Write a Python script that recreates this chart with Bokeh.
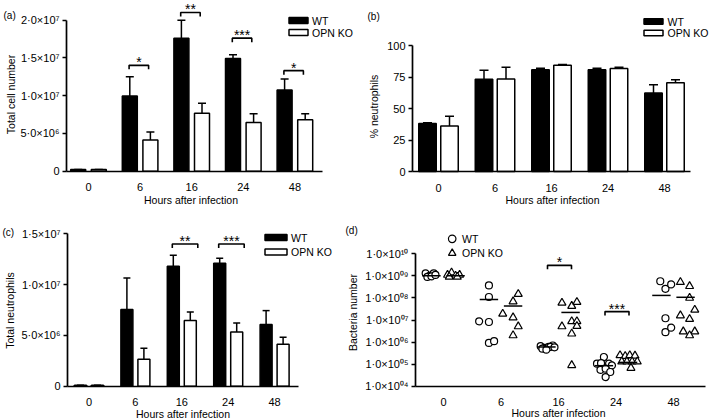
import math
from bokeh.plotting import figure
from bokeh.models import Range1d, FixedTicker, Label
from bokeh.layouts import row, column
from bokeh.embed import file_html
from bokeh.resources import INLINE
from bokeh.core.properties import value

FONT = "Liberation Sans"

# ---------------- data ----------------
hours = ["0", "6", "16", "24", "48"]
xpos = list(range(len(hours)))

# (a) total cell number
a_wt = [2.2e5, 9.96e6, 1.76e7, 1.49e7, 1.075e7]
a_wt_err = [0, 2.54e6, 2.36e6, 0.5e6, 1.45e6]
a_ko = [2.2e5, 4.14e6, 7.67e6, 6.43e6, 6.8e6]
a_ko_err = [0, 1.06e6, 1.32e6, 1.17e6, 0.8e6]
a_ticks = [0, 5000000, 10000000, 15000000, 20000000]
a_tick_labels = ["0", "5·0×10⁶", "1·0×10⁷", "1·5×10⁷", "2·0×10⁷"]
a_sig_idx = [1, 2, 3, 4]
a_sig_level = [1.40e7, 2.10e7, 1.76e7, 1.33e7]
a_sig_text = ["*", "**", "***", "*"]

# (b) % neutrophils
b_wt = [38.1, 73.3, 80.7, 80.7, 62.4]
b_wt_err = [0.5, 7.1, 1.3, 1.3, 6.4]
b_ko = [36.2, 73.5, 84.4, 81.7, 70.4]
b_ko_err = [7.7, 9.3, 0.5, 1.1, 2.4]
b_ticks = [0, 25, 50, 75, 100]
b_tick_labels = ["0", "25", "50", "75", "100"]

# (c) total neutrophils
c_wt = [1e5, 7.54e6, 1.18e7, 1.21e7, 6.07e6]
c_wt_err = [0, 3.12e6, 1.1e6, 0.5e6, 1.37e6]
c_ko = [1e5, 2.66e6, 6.46e6, 5.34e6, 4.13e6]
c_ko_err = [0, 1.08e6, 0.85e6, 0.89e6, 0.69e6]
c_ticks = [0, 5000000, 10000000, 15000000]
c_tick_labels = ["0", "5·0×10⁶", "1·0×10⁷", "1·5×10⁷"]
c_sig_idx = [2, 3]
c_sig_level = [1.40e7, 1.40e7]
c_sig_text = ["**", "***"]

# (d) bacteria number (individual mice)
d_ticks = [10**4, 10**5, 10**6, 10**7, 10**8, 10**9, 10**10]
d_tick_labels = ["1·0×10⁰⁴", "1·0×10⁰⁵", "1·0×10⁰⁶", "1·0×10⁰⁷", "1·0×10⁰⁸", "1·0×10⁰⁹", "1·0×10¹⁰"]
d_wt_hour = [0] * 6 + [1] * 6 + [2] * 8 + [3] * 9 + [4] * 6
d_wt_val = [1.3e9, 1.0e9, 1.3e9, 0.9e9, 0.95e9, 1.1e9,
            3.7e8, 1.1e8, 8.7e6, 8.1e6, 9.1e5, 1.1e6,
            6.5e5, 5.5e5, 6e5, 7e5, 5e5, 6e5, 4.5e5, 5.8e5,
            2.1e5, 1.05e5, 1.1e5, 1.05e5, 8.7e4, 5.5e4, 6.2e4, 4.4e4, 2.6e4,
            5.7e8, 2.6e8, 4.1e8, 1.2e7, 2.8e6, 4.5e6]
d_wt_jit = [-0.31, -0.24, -0.17, -0.28, -0.21, -0.14,
            -0.21, -0.21, -0.38, -0.21, -0.21, -0.12,
            -0.31, -0.24, -0.17, -0.10, -0.28, -0.14, -0.21, -0.07,
            -0.21, -0.33, -0.26, -0.12, -0.07, -0.27, -0.18, -0.10, -0.18,
            -0.23, -0.14, -0.04, -0.14, -0.14, -0.04]
d_ko_hour = [0] * 6 + [1] * 6 + [2] * 9 + [3] * 9 + [4] * 9
d_ko_val = [1.1e9, 1.4e9, 1.0e9, 1.1e9, 0.9e9, 0.9e9,
            1.5e8, 6.9e7, 1.9e7, 1.3e7, 5.1e6, 2.0e6,
            6e7, 4.3e7, 6.5e7, 5.1e6, 8.7e6, 8.7e6, 5.3e6, 2.4e6, 8.9e4,
            2.5e5, 2.3e5, 2.5e5, 2.4e5, 1.3e5, 1.3e5, 1.3e5, 1.3e5, 6.7e4,
            5.2e8, 3.4e8, 1.0e8, 2.9e7, 1.6e7, 1.1e7, 3e6, 3e6, 2e6]
d_ko_jit = [0.07, 0.14, 0.21, 0.28, 0.10, 0.24,
            0.30, 0.21, 0.03, 0.21, 0.30, 0.21,
            0.06, 0.23, 0.32, 0.06, 0.23, 0.32, 0.32, 0.23, 0.23,
            0.07, 0.16, 0.24, 0.33, 0.10, 0.19, 0.28, 0.37, 0.26,
            0.12, 0.28, 0.28, 0.37, 0.12, 0.28, 0.17, 0.37, 0.28]
d_wt_mean = [1.0e9, 8.5e7, 6.0e5, 8.5e4, 1.3e8]
d_ko_mean = [1.0e9, 4.3e7, 2.2e7, 1.2e5, 1.07e8]
d_sig_idx = [2, 3]
d_sig_level = [3.0e9, 2.4e7]
d_sig_text = ["*", "***"]

# ---------------- geometry of the four panels (page pixels) ----------------
CFG_A = dict(ox=0, oy=0, W=354, H=210, ax_x=66, ax_y=170.7, cat0=88, dx=51.6,
             y_lo=0, y_hi=2e7, y_hi_px=19.5, x_end=322)
CFG_B = dict(ox=354, oy=0, W=355, H=210, ax_x=412, ax_y=171, cat0=438, dx=56.5,
             y_lo=0, y_hi=100, y_hi_px=45, x_end=690)
CFG_C = dict(ox=0, oy=210, W=343, H=210, ax_x=67, ax_y=385.7, cat0=88.5, dx=46.4,
             y_lo=0, y_hi=1.5e7, y_hi_px=233.3, x_end=298)
CFG_D = dict(ox=343, oy=210, W=366, H=210, ax_x=415, ax_y=385.7, cat0=443, dx=57.5,
             y_lo=1e4, y_hi=1e10, y_hi_px=253.3, x_end=705, log=True)

TICK_TXT = "11px"
TXT = "10.5px"


def make_panel(cfg, ticks, tick_labels):
    ox, oy, W, H = cfg["ox"], cfg["oy"], cfg["W"], cfg["H"]
    log = cfg.get("log", False)
    T = math.log10 if log else (lambda v: v)
    Ti = (lambda t: 10 ** t) if log else (lambda t: t)
    dx, cat0 = cfg["dx"], cfg["cat0"]
    y_lo, y_hi, ax_y = cfg["y_lo"], cfg["y_hi"], cfg["ax_y"]
    k = (ax_y - cfg["y_hi_px"]) / (T(y_hi) - T(y_lo))

    def xdata(rx):
        return (rx - cat0) / dx

    def ydata(ry):
        return Ti(T(y_lo) + (ax_y - ry) / k)

    p = figure(width=W, height=H,
               x_range=Range1d(xdata(ox), xdata(ox + W)),
               y_range=Range1d(ydata(oy + H), ydata(oy)),
               y_axis_type="log" if log else "linear", output_backend="svg",
               toolbar_location=None, min_border=0, min_border_left=0, min_border_right=0,
               min_border_top=0, min_border_bottom=0, outline_line_color=None,
               background_fill_color="white", border_fill_color="white")
    p.xgrid.visible = False
    p.ygrid.visible = False

    def to_data(rx, ry):
        return xdata(rx), ydata(ry)

    def shift_down(val, px):
        return Ti(T(val) - px / k)

    for ax in (p.xaxis[0], p.yaxis[0]):
        ax.axis_line_width = 1.7
        ax.axis_line_color = "black"
        ax.major_label_text_font = FONT
        ax.major_label_text_font_size = TICK_TXT
        ax.major_label_text_color = "black"
        ax.minor_tick_line_color = None
    xa = p.xaxis[0]
    xa.fixed_location = y_lo
    xa.ticker = FixedTicker(ticks=xpos)
    xa.major_label_overrides = {i: h for i, h in zip(xpos, hours)}
    xa.major_tick_line_color = None
    xa.major_label_standoff = 6
    xa.bounds = (xdata(cfg["ax_x"]), xdata(cfg["x_end"]))
    ya = p.yaxis[0]
    ya.fixed_location = xdata(cfg["ax_x"])
    ya.ticker = FixedTicker(ticks=ticks, minor_ticks=[])
    ya.major_label_overrides = dict(zip(ticks, tick_labels))
    ya.major_tick_in = 0
    ya.major_tick_out = 4
    ya.major_tick_line_width = 1.5
    ya.major_tick_line_color = "black"
    ya.major_label_standoff = 3
    ya.bounds = (y_lo, y_hi)
    return p, to_data, shift_down


def add_text(p, to_data, rx, ry, text, align="left", angle=0.0, size=TXT):
    x, y = to_data(rx, ry)
    p.add_layout(Label(x=x, y=y, text=text, text_font=FONT, text_font_size=size,
                       text_color="black", text_align=align, text_baseline="middle",
                       angle=angle))


def draw_bars(p, cfg, wt, wt_err, ko, ko_err, bw_px, off_px, cap_px):
    bw, off, cap = bw_px / cfg["dx"], off_px / cfg["dx"], cap_px / cfg["dx"]
    for vals, errs, sign, fill in ((wt, wt_err, -1, "black"), (ko, ko_err, 1, "white")):
        xs = [i + sign * off for i in xpos]
        tops = [v + e for v, e in zip(vals, errs)]
        p.segment(x0=xs, y0=vals, x1=xs, y1=tops, line_color="black", line_width=1.5)
        p.segment(x0=[x - cap for x in xs], y0=tops, x1=[x + cap for x in xs], y1=tops,
                  line_color="black", line_width=1.5)
        p.vbar(x=xs, top=vals, bottom=0, width=bw, fill_color=fill,
               line_color="black", line_width=1.5)


def draw_sig(p, cfg, shift_down, idx, lvl, txt, l_px, r_px):
    xs_l, ys_l, tx, ty = [], [], [], []
    for i, h in zip(idx, lvl):
        xa, xb = i + l_px / cfg["dx"], i + r_px / cfg["dx"]
        leg = shift_down(h, 4)
        xs_l.append([xa, xa, xb, xb])
        ys_l.append([leg, h, h, leg])
        tx.append((xa + xb) / 2)
        ty.append(h)
    p.multi_line(xs=xs_l, ys=ys_l, line_color="black", line_width=1.6)
    p.text(x=tx, y=ty, text=txt, text_align="center", text_baseline="alphabetic",
           text_font=value(FONT), text_font_size="14px", text_color="black", y_offset=-3)


def bar_legend(p, to_data, cx, y_wt, y_ko, w_px, h_px, text_x):
    for yc, fill, lab in ((y_wt, "black", "WT"), (y_ko, "white", "OPN KO")):
        xd, yd = to_data(cx, yc)
        p.rect(x=[xd], y=[yd], width=w_px, height=h_px, width_units="screen",
               height_units="screen", fill_color=fill, line_color="black", line_width=1.5)
        add_text(p, to_data, text_x, yc, lab)


# ---------------- (a) ----------------
pa, ta, sa = make_panel(CFG_A, a_ticks, a_tick_labels)
draw_bars(pa, CFG_A, a_wt, a_wt_err, a_ko, a_ko_err, 15, 10.3, 4)
draw_sig(pa, CFG_A, sa, a_sig_idx, a_sig_level, a_sig_text, -11, 8.5)
bar_legend(pa, ta, 298, 20, 32, 19, 6, 311.5)
add_text(pa, ta, 3, 15, "(a)", size="10px")
add_text(pa, ta, 190.5, 199, "Hours after infection", align="center")
add_text(pa, ta, 10, 94, "Total cell number", align="center", angle=math.pi / 2)

# ---------------- (b) ----------------
pb, tb, sb = make_panel(CFG_B, b_ticks, b_tick_labels)
draw_bars(pb, CFG_B, b_wt, b_wt_err, b_ko, b_ko_err, 17.5, 11, 4.5)
bar_legend(pb, tb, 653, 21, 32.5, 19, 5.5, 667)
add_text(pb, tb, 367, 16, "(b)", size="10px")
add_text(pb, tb, 552, 199.3, "Hours after infection", align="center")
add_text(pb, tb, 373, 106, "% neutrophils", align="center", angle=math.pi / 2)

# ---------------- (c) ----------------
pc, tc, sc = make_panel(CFG_C, c_ticks, c_tick_labels)
draw_bars(pc, CFG_C, c_wt, c_wt_err, c_ko, c_ko_err, 12, 8.5, 3.5)
draw_sig(pc, CFG_C, sc, c_sig_idx, c_sig_level, c_sig_text, -9.5, 16)
bar_legend(pc, tc, 275.5, 237, 251.5, 22, 6, 290.5)
add_text(pc, tc, 2, 231.7, "(c)", size="10px")
add_text(pc, tc, 182.5, 413, "Hours after infection", align="center")
add_text(pc, tc, 9, 310, "Total neutrophils", align="center", angle=math.pi / 2)

# ---------------- (d) ----------------
pd_, td, sd = make_panel(CFG_D, d_ticks, d_tick_labels)
pd_.scatter(x=[h + j for h, j in zip(d_wt_hour, d_wt_jit)], y=d_wt_val, marker="circle",
            size=7, fill_color="white", line_color="black", line_width=1.2)
pd_.scatter(x=[h + j for h, j in zip(d_ko_hour, d_ko_jit)], y=d_ko_val, marker="triangle",
            size=8, fill_color="white", line_color="black", line_width=1.2)
MC, MH = 0.21, 0.16
pd_.segment(x0=[i - MC - MH for i in xpos], x1=[i - MC + MH for i in xpos], y0=d_wt_mean,
            y1=d_wt_mean, line_color="black", line_width=1.5)
pd_.segment(x0=[i + MC - MH for i in xpos], x1=[i + MC + MH for i in xpos], y0=d_ko_mean,
            y1=d_ko_mean, line_color="black", line_width=1.5)
draw_sig(pd_, CFG_D, sd, d_sig_idx, d_sig_level, d_sig_text, -11, 13)
for yc, mk, lab in ((238.3, "circle", "WT"), (252.7, "triangle", "OPN KO")):
    xd, yd = td(451.7, yc)
    pd_.scatter(x=[xd], y=[yd], marker=mk, size=7.5, fill_color="white",
                line_color="black", line_width=1.2)
    add_text(pd_, td, 461.5, yc, lab)
add_text(pd_, td, 345, 230, "(d)", size="10px")
add_text(pd_, td, 558, 412.7, "Hours after infection", align="center")
add_text(pd_, td, 352, 312, "Bacteria number", align="center", angle=math.pi / 2)

layout = column(row(pa, pb), row(pc, pd_))
open("out.html", "w").write(file_html(layout, INLINE))
